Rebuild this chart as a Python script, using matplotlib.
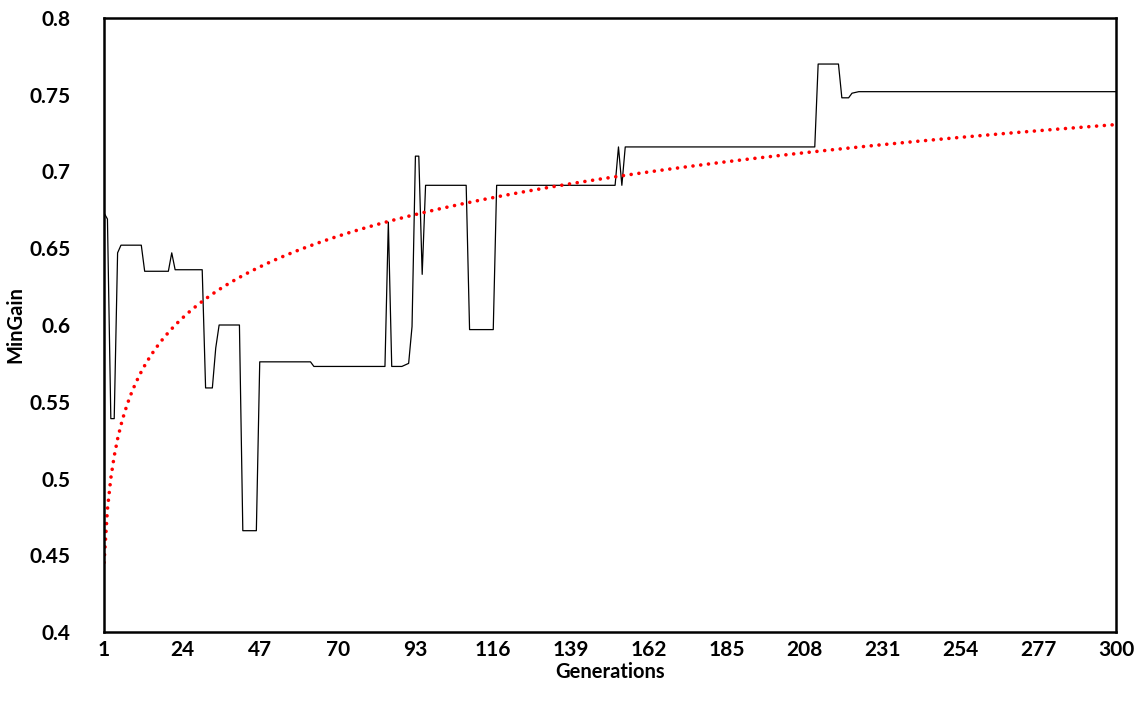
import numpy as np
import matplotlib
matplotlib.use("Agg")
import matplotlib.pyplot as plt

# ================================================================
# DATA (run-length: value held for N generations)
# ================================================================
RUN_VALUES = [0.673, 0.669, 0.539, 0.647, 0.652, 0.635, 0.647, 0.636,
              0.559, 0.585, 0.600, 0.466, 0.576, 0.573, 0.667, 0.573,
              0.574, 0.575, 0.599, 0.710, 0.633, 0.691, 0.597, 0.691,
              0.716, 0.691, 0.716, 0.770, 0.748, 0.751, 0.7515, 0.752]
RUN_LENGTHS = [1, 1, 2, 1, 7, 8, 1, 9,
               3, 1, 7, 5, 16, 22, 1, 4,
               1, 1, 1, 2, 1, 13, 8, 36,
               1, 1, 57, 7, 3, 1, 1, 77]

X_TICKS = [1, 24, 47, 70, 93, 116, 139, 162, 185, 208, 231, 254, 277, 300]
Y_TICKS = [0.4, 0.45, 0.5, 0.55, 0.6, 0.65, 0.7, 0.75, 0.8]
Y_LABELS = ["0.4", "0.45", "0.5", "0.55", "0.6", "0.65", "0.7", "0.75", "0.8"]

min_gain = np.repeat(RUN_VALUES, RUN_LENGTHS)
gens = np.arange(1, len(min_gain) + 1)

# tendance logarithmique (comme Excel)
b, a = np.polyfit(np.log(gens), min_gain, 1)
trend = a + b * np.log(gens)

# ================================================================
# FIGURE
# ================================================================
plt.rcParams['font.family'] = ['Lato', 'DejaVu Sans']
fig = plt.figure(figsize=(11.46, 7.11), dpi=100)
ax = fig.add_axes([0.0908, 0.1111, 0.8830, 0.8636])

ax.plot(gens, min_gain, color='black', lw=0.9)
ax.plot(gens, trend, color='#ff0000', lw=2.6, linestyle=(0, (0.01, 2.15)),
        dash_capstyle='round')

ax.set_xlim(1, 300)
ax.set_ylim(0.4, 0.8)
ax.set_xticks(X_TICKS)
ax.set_xticklabels([str(t) for t in X_TICKS], fontsize=15, fontweight='bold')
ax.set_yticks(Y_TICKS)
ax.set_yticklabels(Y_LABELS, fontsize=15, fontweight='bold')
ax.tick_params(length=0)
ax.tick_params(axis='x', pad=6)
ax.tick_params(axis='y', pad=24)

for sp in ax.spines.values():
    sp.set_linewidth(1.8)
    sp.set_color('black')

ax.set_xlabel("Generations", fontsize=14.5, fontweight='bold', labelpad=1)
ax.set_ylabel("MinGain", fontsize=14.5, fontweight='bold', labelpad=3)

fig.savefig("out.png", dpi=100)
